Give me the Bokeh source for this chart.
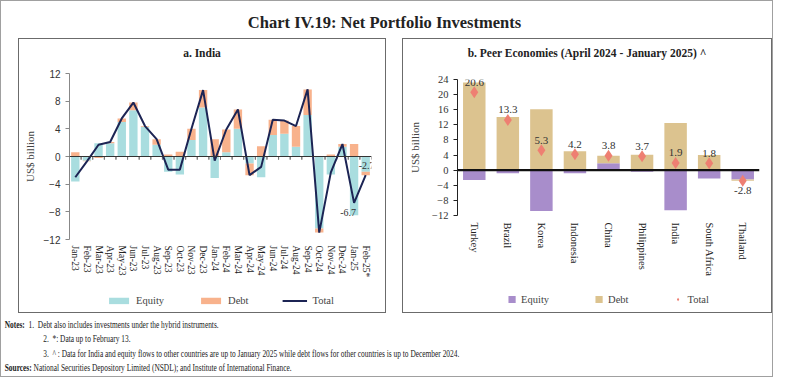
import numpy as np
from bokeh.plotting import figure
from bokeh.models import (ColumnDataSource, Range1d, FactorRange, FixedTicker, Span,
                          Legend, LegendItem, Div, LabelSet)
from bokeh.layouts import column, row
from bokeh.embed import file_html
from bokeh.resources import INLINE
from bokeh.transform import dodge

# ---------------- data ----------------
months = ["Jan-23", "Feb-23", "Mar-23", "Apr-23", "May-23", "Jun-23", "Jul-23", "Aug-23",
          "Sep-23", "Oct-23", "Nov-23", "Dec-23", "Jan-24", "Feb-24", "Mar-24", "Apr-24",
          "May-24", "Jun-24", "Jul-24", "Aug-24", "Sep-24", "Oct-24", "Nov-24", "Dec-24",
          "Jan-25", "Feb-25*"]
india_equity = [-3.6, -0.6, 1.9, 1.9, 5.0, 6.7, 4.3, 1.7, -2.2, -2.6, 2.4, 7.1, -3.1,
                0.6, 4.0, -1.0, -3.0, 3.1, 3.3, 1.4, 6.0, -10.4, -2.6, 1.4, -8.5, -2.2]
india_debt = [0.6, -0.1, -0.2, 0.2, 0.5, 1.1, 0.1, 0.8, 0.3, 0.7, 1.6, 2.5, 2.5,
              3.3, 2.8, -1.7, 1.5, 2.2, 1.9, 3.0, 3.7, -0.6, 0.3, 0.4, 1.8, -0.5]
india_total = [-3.0, -0.7, 1.7, 2.1, 5.5, 7.8, 4.4, 2.5, -1.9, -1.9, 4.0, 9.6, -0.6,
               3.9, 6.8, -2.7, -1.5, 5.3, 5.2, 4.4, 9.7, -11.0, -2.3, 1.8, -6.7, -2.7]
india_yticks = [-12, -8, -4, 0, 4, 8, 12]

countries = ["Turkey", "Brazil", "Korea", "Indonesia", "China", "Philippines", "India",
             "South Africa", "Thailand"]
peer_equity = [-2.6, -0.8, -10.8, -0.8, 1.8, -0.4, -10.6, -2.2, -2.5]
peer_debt = [23.2, 14.1, 16.1, 5.0, 2.0, 4.1, 12.5, 4.0, -0.3]
peer_total = [20.6, 13.3, 5.3, 4.2, 3.8, 3.7, 1.9, 1.8, -2.8]
peer_yticks = [-12, -8, -4, 0, 4, 8, 12, 16, 20, 24]

SERIF = "Liberation Serif"
SANS = "Liberation Sans"

C_EQ1, C_DEBT1, C_TOT1 = "#A9DDDF", "#F8B28C", "#1C2454"
C_EQ2, C_DEBT2, C_TOT2 = "#A88DCB", "#DCC38F", "#EE7F72"


def stack(eq, debt):
    eq = np.array(eq, dtype=float)
    debt = np.array(debt, dtype=float)
    same = np.sign(eq) == np.sign(debt)
    d_bottom = np.where(same, eq, 0.0)
    d_top = d_bottom + debt
    return eq, d_bottom, d_top


def subtitle(text, width):
    return Div(text="<div style=\"font-family:'Liberation Serif';font-weight:bold;"
                    "font-size:11.5px;color:#222;text-align:center;width:%dpx;"
                    "line-height:28px;\">%s</div>" % (width, text),
               width=width, height=28, margin=0)


def legend_fig(width, height, factors, src, spec, spacing, gw, gh):
    """Small figure that only shows a horizontal legend (its glyphs lie outside the view)."""
    lf = figure(width=width, height=height, x_range=FactorRange(*factors),
                y_range=Range1d(1000, 1001), output_backend="svg",
                toolbar_location=None, min_border=0)
    lf.axis.visible = False
    lf.grid.grid_line_color = None
    lf.outline_line_color = None
    items = []
    for label, kind, col, color in spec:
        if kind == "bar":
            r = lf.vbar(x="x", top=col, width=0.5, source=src, fill_color=color, line_color=None)
        elif kind == "line":
            r = lf.line(x="x", y=col, source=src, line_color=color, line_width=2)
        else:
            r = lf.scatter(x="x", y=col, source=src, marker="diamond", size=12,
                           fill_color=color, line_color=None)
        items.append(LegendItem(label=label, renderers=[r]))
    lg = Legend(items=items, orientation="horizontal", location="center", spacing=spacing,
                glyph_width=gw, glyph_height=gh, label_standoff=5,
                label_text_font=SERIF, label_text_font_size="10.5px",
                border_line_color=None, background_fill_alpha=0, margin=0, padding=0)
    lf.add_layout(lg, "center")
    return lf


# ---------------- panel a: India ----------------
eq, db, dt = stack(india_equity, india_debt)
src1 = ColumnDataSource(dict(x=months, eq=eq, db=db, dt=dt, tot=india_total,
                             z=[0.0] * len(months), tk=[-0.45] * len(months)))

p1 = figure(x_range=FactorRange(*months), y_range=Range1d(-12, 12),
            width=366, height=221, output_backend="svg", toolbar_location=None,
            min_border_left=50, min_border_right=14, min_border_top=6, min_border_bottom=49)
p1.outline_line_color = None
p1.grid.grid_line_color = None

p1.vbar(x="x", top="eq", bottom=0, width=0.72, source=src1, fill_color=C_EQ1, line_color=None)
p1.vbar(x="x", top="dt", bottom="db", width=0.72, source=src1, fill_color=C_DEBT1, line_color=None)
p1.add_layout(Span(location=0, dimension="width", line_color="#333333", line_width=1.2))
for off in (-0.5, 0.5):
    p1.segment(x0=dodge("x", off, range=p1.x_range), x1=dodge("x", off, range=p1.x_range),
               y0="z", y1="tk", source=src1, line_color="#777777", line_width=1)
p1.line(x="x", y="tot", source=src1, line_color=C_TOT1, line_width=2)

lab1 = ColumnDataSource(dict(x=[months[-1]], y=[india_total[-1]],
                             t=["%.1f" % india_total[-1]]))
lab2 = ColumnDataSource(dict(x=[months[-2]], y=[india_total[-2]],
                             t=["%.1f" % india_total[-2]]))
p1.add_layout(LabelSet(x="x", y="y", text="t", source=lab1, x_offset=1, y_offset=10,
                       text_align="center", text_baseline="middle", text_font=SANS,
                       text_font_size="10px", text_color="#333333"))
p1.add_layout(LabelSet(x="x", y="y", text="t", source=lab2, x_offset=-6, y_offset=-10,
                       text_align="center", text_baseline="middle", text_font=SANS,
                       text_font_size="10px", text_color="#333333"))

p1.yaxis.ticker = FixedTicker(ticks=india_yticks)
p1.yaxis.axis_label = "US$ billion"
p1.yaxis.axis_label_text_font = SERIF
p1.yaxis.axis_label_text_font_style = "normal"
p1.yaxis.axis_label_text_font_size = "11px"
p1.yaxis.axis_label_standoff = 5
p1.yaxis.major_label_text_font = SANS
p1.yaxis.major_label_text_font_size = "10px"
p1.yaxis.major_label_text_color = "#333333"
p1.yaxis.axis_line_color = "#888888"
p1.yaxis.major_tick_line_color = "#888888"
p1.yaxis.major_tick_in = 0
p1.yaxis.major_tick_out = 4
p1.yaxis.minor_tick_line_color = None
p1.xaxis.axis_line_color = None
p1.xaxis.major_tick_line_color = None
p1.xaxis.major_tick_in = 0
p1.xaxis.major_tick_out = 0
p1.xaxis.major_label_orientation = "vertical"
p1.xaxis.major_label_text_font = SERIF
p1.xaxis.major_label_text_font_size = "9.5px"
p1.xaxis.major_label_text_color = "#222222"
p1.xaxis.major_label_standoff = 6

leg1 = legend_fig(366, 24, months, src1,
                  [("Equity", "bar", "eq", C_EQ1), ("Debt", "bar", "dt", C_DEBT1),
                   ("Total", "line", "tot", C_TOT1)], 34, 25, 8)

# ---------------- panel b: peers ----------------
eq2, db2, dt2 = stack(peer_equity, peer_debt)
src2 = ColumnDataSource(dict(x=countries, eq=eq2, db=db2, dt=dt2, tot=peer_total))
pos = [i for i, v in enumerate(peer_total) if v >= 0]
neg = [i for i, v in enumerate(peer_total) if v < 0]
lab_pos = ColumnDataSource(dict(x=[countries[i] for i in pos], y=[peer_total[i] for i in pos],
                                t=["%.1f" % peer_total[i] for i in pos]))
lab_neg = ColumnDataSource(dict(x=[countries[i] for i in neg], y=[peer_total[i] for i in neg],
                                t=["%.1f" % peer_total[i] for i in neg]))

p2 = figure(x_range=FactorRange(*countries), y_range=Range1d(-12, 24),
            width=368, height=218, output_backend="svg", toolbar_location=None,
            min_border_left=54, min_border_right=12, min_border_top=12, min_border_bottom=70)
p2.outline_line_color = None
p2.grid.grid_line_color = None

p2.vbar(x="x", top="eq", bottom=0, width=0.67, source=src2, fill_color=C_EQ2, line_color=None)
p2.vbar(x="x", top="dt", bottom="db", width=0.67, source=src2, fill_color=C_DEBT2, line_color=None)
p2.add_layout(Span(location=0, dimension="width", line_color="#111111", line_width=2.2))
p2.scatter(x="x", y="tot", source=src2, marker="diamond", size=12,
           fill_color=C_TOT2, line_color=None)
p2.add_layout(LabelSet(x="x", y="y", text="t", source=lab_pos, y_offset=10,
                       text_align="center", text_baseline="middle", text_font=SERIF,
                       text_font_size="11px", text_color="#333333"))
p2.add_layout(LabelSet(x="x", y="y", text="t", source=lab_neg, y_offset=-10,
                       text_align="center", text_baseline="middle", text_font=SERIF,
                       text_font_size="11px", text_color="#333333"))

p2.yaxis.ticker = FixedTicker(ticks=peer_yticks)
p2.yaxis.axis_label = "US$ billion"
p2.yaxis.axis_label_text_font = SERIF
p2.yaxis.axis_label_text_font_style = "normal"
p2.yaxis.axis_label_text_font_size = "11px"
p2.yaxis.axis_label_standoff = 8
p2.yaxis.major_label_text_font = SERIF
p2.yaxis.major_label_text_font_size = "10.5px"
p2.yaxis.major_label_text_color = "#333333"
p2.yaxis.axis_line_color = "#222222"
p2.yaxis.major_tick_line_color = "#222222"
p2.yaxis.major_tick_in = 0
p2.yaxis.major_tick_out = 4
p2.yaxis.minor_tick_line_color = None
p2.xaxis.axis_line_color = None
p2.xaxis.major_tick_line_color = None
p2.xaxis.major_tick_in = 0
p2.xaxis.major_tick_out = 0
p2.xaxis.major_label_orientation = "vertical"
p2.xaxis.major_label_text_font = SERIF
p2.xaxis.major_label_text_font_size = "10.5px"
p2.xaxis.major_label_text_color = "#222222"
p2.xaxis.major_label_standoff = 7

leg2 = legend_fig(368, 27, countries, src2,
                  [("Equity", "bar", "eq", C_EQ2), ("Debt", "bar", "dt", C_DEBT2),
                   ("Total", "diamond", "tot", C_TOT2)], 45, 9, 9)

# ---------------- title & notes ----------------
title_div = Div(text="<div style=\"font-family:'Liberation Serif';font-weight:bold;"
                     "font-size:16.5px;color:#222;text-align:center;width:767px;"
                     "line-height:28px;padding-top:3px;\">Chart IV.19: Net Portfolio Investments</div>",
                width=767, height=28, margin=(5, 0, 4, 0))

notes_html = (
    "<div style=\"font-family:'Liberation Serif';font-size:10px;color:#222;"
    "line-height:14.4px;padding-left:5px;transform:scaleX(0.74);transform-origin:left top;"
    "white-space:nowrap;\">"
    "<b>Notes:</b>&nbsp; 1.&nbsp; Debt also includes investments under the hybrid instruments.<br>"
    "<span style=\"padding-left:52px\">2.&nbsp; *: Data up to February 13.</span><br>"
    "<span style=\"padding-left:52px\">3.&nbsp; ^ : Data for India and equity flows to other "
    "countries are up to January 2025 while debt flows for other countries is up to December 2024."
    "</span><br>"
    "<b>Sources:</b> National Securities Depository Limited (NSDL); and Institute of "
    "International Finance.</div>"
)
notes_div = Div(text=notes_html, width=767, height=58, margin=(5, 0, 0, 0))

box1 = column(subtitle("a. India", 366), p1, leg1,
              styles={"border": "1px solid #6b6b6b"}, margin=(0, 0, 0, 10))
box2 = column(subtitle("b. Peer Economies (April 2024 - January 2025) ^", 368), p2, leg2,
              styles={"border": "1px solid #6b6b6b"})
gap1 = Div(text="", width=7, height=10, margin=0)
gap2 = Div(text="", width=16, height=10, margin=0)
panels = row(gap1, box1, gap2, box2)
layout = column(title_div, panels, notes_div, styles={"border": "1px solid #a0a0a0"})

open("out.html", "w").write(file_html(layout, INLINE))
